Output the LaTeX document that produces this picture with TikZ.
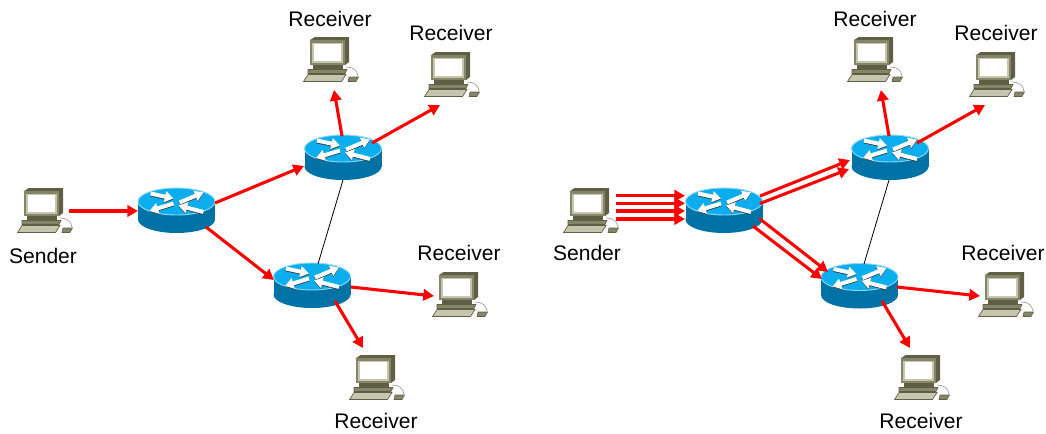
\documentclass[tikz,border=0pt]{standalone}
\usepackage{fontspec}
\setmainfont{Liberation Sans}
\usetikzlibrary{arrows.meta,calc}
\definecolor{rtop}{HTML}{0AAEEF}
\definecolor{rrim}{HTML}{8FD8F5}
\definecolor{rside}{HTML}{0072A6}
\definecolor{pcdark}{HTML}{5F5F45}
\definecolor{pcmid}{HTML}{85856A}
\definecolor{pclight}{HTML}{C6C6AE}
\tikzset{
  x=.75pt,y=-.75pt,
  lab/.style={font=\fontsize{15.8}{18}\selectfont,text=black,inner sep=0pt},
  routernode/.style={minimum width=58.5pt,minimum height=33.75pt,inner sep=0pt},
  pcnode/.style={minimum width=42pt,minimum height=33.75pt,inner sep=0pt},
  flow/.style={red,line width=2.3pt,-{Triangle[length=8pt,width=8.5pt]}},
  link/.style={black,line width=.6pt},
  whitearrow/.style={white,line width=3pt,-{Triangle[length=6.5pt,width=8pt]}},
  shadearrow/.style={black!80,line width=3pt,-{Triangle[length=6.5pt,width=8pt]}},
  router/.pic={
    \fill[rside] (-38.5,-9) rectangle (38.5,9);
    \fill[rside] (0,9) ellipse [x radius=38.5,y radius=13.5];
    \fill[rtop,draw=rrim,line width=.7pt] (0,-9) ellipse [x radius=38.5,y radius=13.5];
    \foreach \ax/\ay/\bx/\by in {-26/-17/-3/-12, 3/-8/27/-18, -3/-7/-27/0.5, 27/1.5/2/-5}{
      \draw[shadearrow] (\ax,\ay+.8) -- (\bx,\by+.8);
    }
    \foreach \ax/\ay/\bx/\by in {-26/-17/-3/-12, 3/-8/27/-18, -3/-7/-27/0.5, 27/1.5/2/-5}{
      \draw[whitearrow] (\ax,\ay) -- (\bx,\by);
    }
  },
  computer/.pic={
    \begin{scope}[shift={(-28,-22.5)}]
      \draw[pcdark!60,line width=.5pt] (43,30) .. controls (50,30) and (54,33) .. (55,39);
      \fill[pcdark] (6.7,3.3) -- (11.7,0) -- (46,0) -- (46,25) -- (41.7,28.3) -- cycle;
      \fill[pcmid] (6.7,3.3) rectangle (41.7,28.3);
      \fill[pclight] (9.3,6) rectangle (39.7,25.7);
      \fill[white] (10.7,7.3) rectangle (38.3,24.3);
      \fill[pcdark] (10,28.3) rectangle (40,32);
      \fill[pcmid,draw=pcdark,line width=.4pt] (5,32.5) -- (44,32.5) -- (42,36.5) -- (5,36.5) -- cycle;
      \fill[pclight,draw=pcdark,line width=.5pt] (0.5,44.5) -- (5,37.5) -- (43,37.5) -- (38.5,44.5) -- cycle;
      \fill[pcmid,draw=pcdark,line width=.4pt] (46,40) -- (55.5,40) -- (53,44.5) -- (45,44.5) -- cycle;
    \end{scope}
  }
}
\newcommand{\putrouter}[2]{\node[routernode] (#1) at (#2) {}; \pic at (#1) {router};}
\newcommand{\putpc}[2]{\node[pcnode] (#1) at (#2) {}; \pic at (#1) {computer};}
\begin{document}
\begin{tikzpicture}
\useasboundingbox (0,0) rectangle (1046,433);
% left panel
\putpc{ls}{45,210.5}
\putpc{la}{331,59.5}
\putpc{lb}{452,74.5}
\putpc{lc}{460,294.5}
\putpc{ld}{377,377.5}
\putrouter{lr}{176.5,210.5}
\putrouter{lu}{343,157.5}
\putrouter{ld2}{312,285.5}
\node[lab] (lsl) at (43,256) {Sender};
\node[lab] (lal) at (330,19) {Receiver};
\node[lab] (lbl) at (451,33) {Receiver};
\node[lab] (lcl) at (459,253) {Receiver};
\node[lab] (ldl) at (376,421) {Receiver};
\draw[link] ($(lu)+(0,22.5)$) -- ($(ld2)+(6,-21.5)$);
\draw[flow] ($(ls)+(24,.5)$) -- ($(lr)+(-38.5,.5)$);
\draw[flow] ($(lr)+(38.5,-7.5)$) -- ($(lu)+(-39,8.5)$);
\draw[flow] ($(lr)+(29.5,16.5)$) -- ($(ld2)+(-38,-5.5)$);
\draw[flow] ($(lu)+(-1,-21.5)$) -- ($(la)+(3,30.5)$);
\draw[flow] ($(lu)+(29,-14.5)$) -- ($(lb)+(-12,30.5)$);
\draw[flow] ($(ld2)+(39,1.5)$) -- ($(lc)+(-26,1.5)$);
\draw[flow] ($(ld2)+(23,15.5)$) -- ($(ld)+(-14,-29.5)$);
% right panel
\putpc{rs}{591,210.5}
\putpc{ra}{875,59.5}
\putpc{rb}{997,74.5}
\putpc{rc}{1006,294.5}
\putpc{rd}{922,377.5}
\putrouter{rr}{724,210.5}
\putrouter{ru}{890,157.5}
\putrouter{rd2}{859.5,286}
\node[lab] (rsl) at (587,253) {Sender};
\node[lab] (ral) at (875,19) {Receiver};
\node[lab] (rbl) at (996,33) {Receiver};
\node[lab] (rcl) at (1003,253) {Receiver};
\node[lab] (rdl) at (921,421) {Receiver};
\draw[link] ($(ru)+(-1,22.5)$) -- ($(rd2)+(4.5,-22)$);
\foreach \yy in {-14.8,-7.2,.5,8.5}{
  \draw[flow] ($(rs)+(25,\yy)$) -- ($(rr)+(-39,\yy)$);
}
\draw[flow] ($(rr)+(36,-14.5)$) -- ($(ru)+(-40,2.5)$);
\draw[flow] ($(rr)+(36,-7)$) -- ($(ru)+(-41,11.5)$);
\draw[flow] ($(rr)+(36,8.5)$) -- ($(rd2)+(-31.5,-14)$);
\draw[flow] ($(rr)+(29,15.5)$) -- ($(rd2)+(-37.5,-7)$);
\draw[flow] ($(ru)+(-1,-21.5)$) -- ($(ra)+(6,30.5)$);
\draw[flow] ($(ru)+(27,-14.5)$) -- ($(rb)+(-12,30.5)$);
\draw[flow] ($(rd2)+(37.5,1)$) -- ($(rc)+(-26,1.5)$);
\draw[flow] ($(rd2)+(22.5,15)$) -- ($(rd)+(-12,-29.5)$);
\end{tikzpicture}
\end{document}
